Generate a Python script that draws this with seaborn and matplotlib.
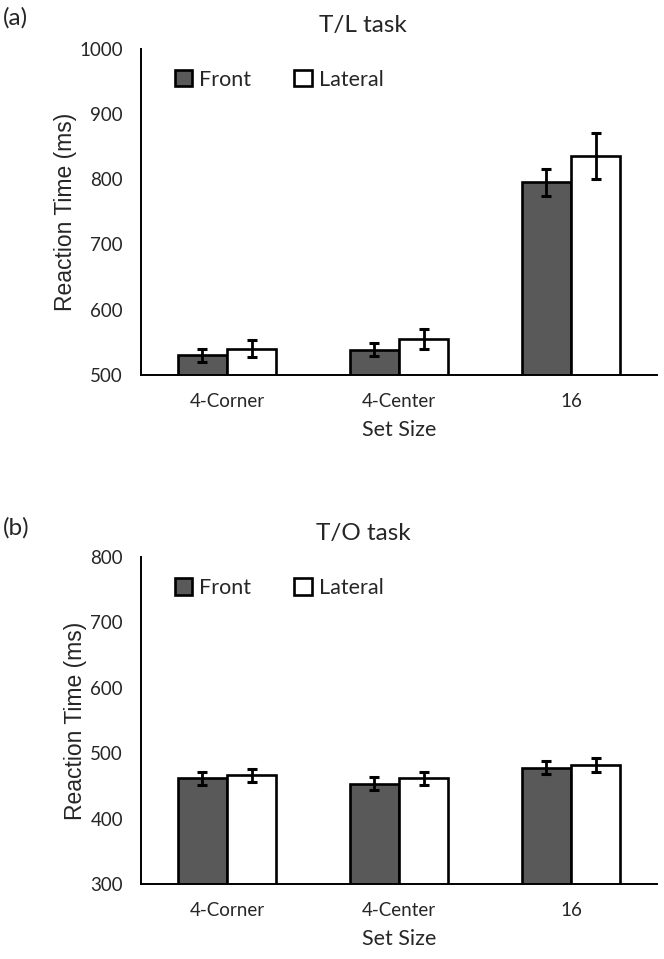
import numpy as np
import pandas as pd
import matplotlib
matplotlib.use('Agg')
import matplotlib.pyplot as plt
import seaborn as sns

# --- Data ---
set_sizes = ['4-Corner', '4-Center', '16']
conditions = ['Front', 'Lateral']

tl_front = [530, 539, 795]
tl_front_err = [10, 10, 20]
tl_lateral = [540, 555, 836]
tl_lateral_err = [13, 15, 35]

to_front = [462, 453, 478]
to_front_err = [10, 10, 10]
to_lateral = [466, 462, 482]
to_lateral_err = [10, 10, 10]

panels = [
    ('(a)', 'T/L task', tl_front, tl_front_err, tl_lateral, tl_lateral_err, (500, 1000)),
    ('(b)', 'T/O task', to_front, to_front_err, to_lateral, to_lateral_err, (300, 800)),
]

# --- Style ---
sns.set_style('white')
plt.rcParams['font.family'] = ['Lato', 'DejaVu Sans']
FRONT_COLOR = '#595959'

fig = plt.figure(figsize=(6.64, 9.59), dpi=100)
ax_rects = [
    [141 / 664, 1 - 375 / 959, 516 / 664, 326.3 / 959],
    [141 / 664, 1 - 884 / 959, 516 / 664, 327 / 959],
]
label_y = [1 - 18 / 959, 1 - 528 / 959]

for (tag, title, front, front_err, lateral, lateral_err, ylim), rect, ly in zip(panels, ax_rects, label_y):
    ax = fig.add_axes(rect)
    df = pd.DataFrame({
        'Set Size': set_sizes * 2,
        'Condition': ['Front'] * 3 + ['Lateral'] * 3,
        'RT': front + lateral,
    })
    sns.barplot(data=df, x='Set Size', y='RT', hue='Condition', order=set_sizes,
                hue_order=conditions, palette=[FRONT_COLOR, 'white'],
                edgecolor='black', linewidth=1.9, width=0.57, gap=0,
                errorbar=None, ax=ax)

    # error bars at the bar centres
    for cont, means, errs in zip(ax.containers, [front, lateral], [front_err, lateral_err]):
        xs = [b.get_x() + b.get_width() / 2 for b in cont]
        ax.errorbar(xs, means, yerr=errs, fmt='none', ecolor='black',
                    elinewidth=2.0, capsize=3.5, capthick=2.2, zorder=5)

    ax.set_ylim(*ylim)
    ax.set_yticks(np.arange(ylim[0], ylim[1] + 1, 100))
    ax.set_xlim(-0.5, 2.5)
    ax.set_xlabel('Set Size', fontsize=15.5, labelpad=7)
    ax.set_ylabel('Reaction Time (ms)', fontsize=16.5, family='Liberation Sans', labelpad=2)
    ax.set_title(title, fontsize=17.5, x=0.43, pad=12)

    ax.tick_params(axis='y', direction='in', length=5, width=1.3, pad=13, labelsize=13.5)
    ax.tick_params(axis='x', length=0, pad=13, labelsize=13.5)

    sns.despine(ax=ax)
    for side in ['left', 'bottom']:
        ax.spines[side].set_color('black')
        ax.spines[side].set_linewidth(1.4)

    handles, labels = ax.get_legend_handles_labels()
    ax.legend(handles, labels, loc='center left', bbox_to_anchor=(0.065, 0.905),
              ncol=2, frameon=False, fontsize=15.5, borderpad=0, borderaxespad=0,
              handlelength=0.8, handleheight=0.8, handletextpad=0.35, columnspacing=2.0)

    fig.text(0.004, ly, tag, fontsize=17.5, va='center', ha='left')

fig.savefig('out.png', dpi=100)
